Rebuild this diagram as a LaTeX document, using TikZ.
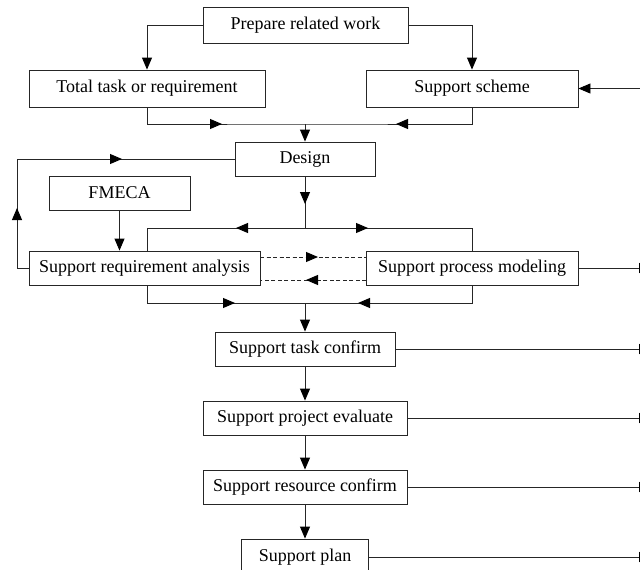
\documentclass[tikz,border=0pt]{standalone}
\usepackage{fontspec}
\setmainfont{Liberation Serif}
\usetikzlibrary{arrows.meta}
\begin{document}
\begin{tikzpicture}[x=1pt,y=-1pt,
 box/.style={draw=black!85,line width=0.9pt,inner sep=0pt,font=\fontsize{18}{21}\selectfont},
 ln/.style={line width=0.9pt,draw=black!85},
 tip/.style={-{Triangle[length=12pt,width=10pt,fill=black,color=black]}},
 arr/.style={ln,tip},
 dsh/.style={ln,dash pattern=on 4pt off 2.5pt}]
\useasboundingbox (0,0) rectangle (640,570);
\clip (0,0) rectangle (640,570);
% boxes
\node[box,minimum width=205pt,minimum height=36pt] (prep) at (305.5,25) {Prepare related work};
\node[box,minimum width=236pt,minimum height=37pt] (total) at (147,88.5) {Total task or requirement};
\node[box,minimum width=212pt,minimum height=37pt] (scheme) at (472,88.5) {Support scheme};
\node[box,minimum width=140pt,minimum height=34pt] (design) at (305,159) {Design};
\node[box,minimum width=141pt,minimum height=34pt] (fmeca) at (119.5,193) {FMECA};
\node[box,minimum width=231pt,minimum height=34pt] (sra) at (144.5,268) {Support requirement analysis};
\node[box,minimum width=212pt,minimum height=34pt] (spm) at (472,268) {Support process modeling};
\node[box,minimum width=180pt,minimum height=34pt] (stc) at (305,349) {Support task confirm};
\node[box,minimum width=204pt,minimum height=34pt] (spe) at (305,418) {Support project evaluate};
\node[box,minimum width=204pt,minimum height=34pt] (src) at (305,487) {Support resource confirm};
\node[box,minimum width=127pt,minimum height=36pt] (sp) at (305,557) {Support plan};
% coordinates
\coordinate (m1) at (305,124);
\coordinate (m1L) at (147,124);
\coordinate (m1R) at (472,124);
\coordinate (a1) at (222,124);
\coordinate (a2) at (396,124);
\coordinate (inS) at (645,88.5);
\coordinate (fbL) at (17,268);
\coordinate (fbT) at (17,159);
\coordinate (fbU) at (17,208);
\coordinate (fbR) at (122,159);
\coordinate (sp1) at (305,228);
\coordinate (sp1L) at (147,228);
\coordinate (sp1R) at (472,228);
\coordinate (sp1d) at (305,204);
\coordinate (sp1l) at (236,228);
\coordinate (sp1r) at (368,228);
\coordinate (dU1) at (260,257);
\coordinate (dU2) at (366,257);
\coordinate (dUa) at (318,257);
\coordinate (dL1) at (366,280);
\coordinate (dL2) at (260,280);
\coordinate (dLa) at (306,280);
\coordinate (m2) at (305,303);
\coordinate (m2L) at (147,303);
\coordinate (m2R) at (472,303);
\coordinate (m2l) at (235,303);
\coordinate (m2r) at (358,303);
\coordinate (o1) at (651,268);
\coordinate (o2) at (651,349);
\coordinate (o3) at (651,418);
\coordinate (o4) at (651,487);
\coordinate (o5) at (651,557);
% top
\draw[arr] (prep.west) -| (total.north);
\draw[arr] (prep.east) -| (scheme.north);
\draw[arr] (inS) -- (scheme.east);
\draw[ln] (total.south) -- (m1L) -- (m1) -- (m1R) -- (scheme.south);
\draw[arr] (m1L) -- (a1);
\draw[arr] (m1R) -- (a2);
\draw[arr] (m1) -- (design.north);
% feedback
\draw[ln] (sra.west) -- (fbL) -- (fbT) -- (design.west);
\draw[arr] (fbL) -- (fbU);
\draw[arr] (fbT) -- (fbR);
% fmeca
\draw[arr] (fmeca.south) -- (fmeca.south |- sra.north);
% design split
\draw[ln] (design.south) -- (sp1);
\draw[arr] (design.south) -- (sp1d);
\draw[ln] (sra.north -| sp1L) -- (sp1L) -- (sp1R) -- (spm.north);
\draw[arr] (sp1) -- (sp1l);
\draw[arr] (sp1) -- (sp1r);
% dashed
\draw[dsh] (dU1) -- (dU2);
\draw[dsh,tip] (dU1) -- (dUa);
\draw[dsh] (dL1) -- (dL2);
\draw[dsh,tip] (dL1) -- (dLa);
% merge 2
\draw[ln] (sra.south -| m2L) -- (m2L) -- (m2R) -- (spm.south);
\draw[arr] (m2L) -- (m2l);
\draw[arr] (m2R) -- (m2r);
\draw[arr] (m2) -- (stc.north);
% chain
\draw[arr] (stc.south) -- (spe.north);
\draw[arr] (spe.south) -- (src.north);
\draw[arr] (src.south) -- (sp.north);
% outputs
\draw[arr] (spm.east) -- (o1);
\draw[arr] (stc.east) -- (o2);
\draw[arr] (spe.east) -- (o3);
\draw[arr] (src.east) -- (o4);
\draw[arr] (sp.east) -- (o5);
\end{tikzpicture}
\end{document}
